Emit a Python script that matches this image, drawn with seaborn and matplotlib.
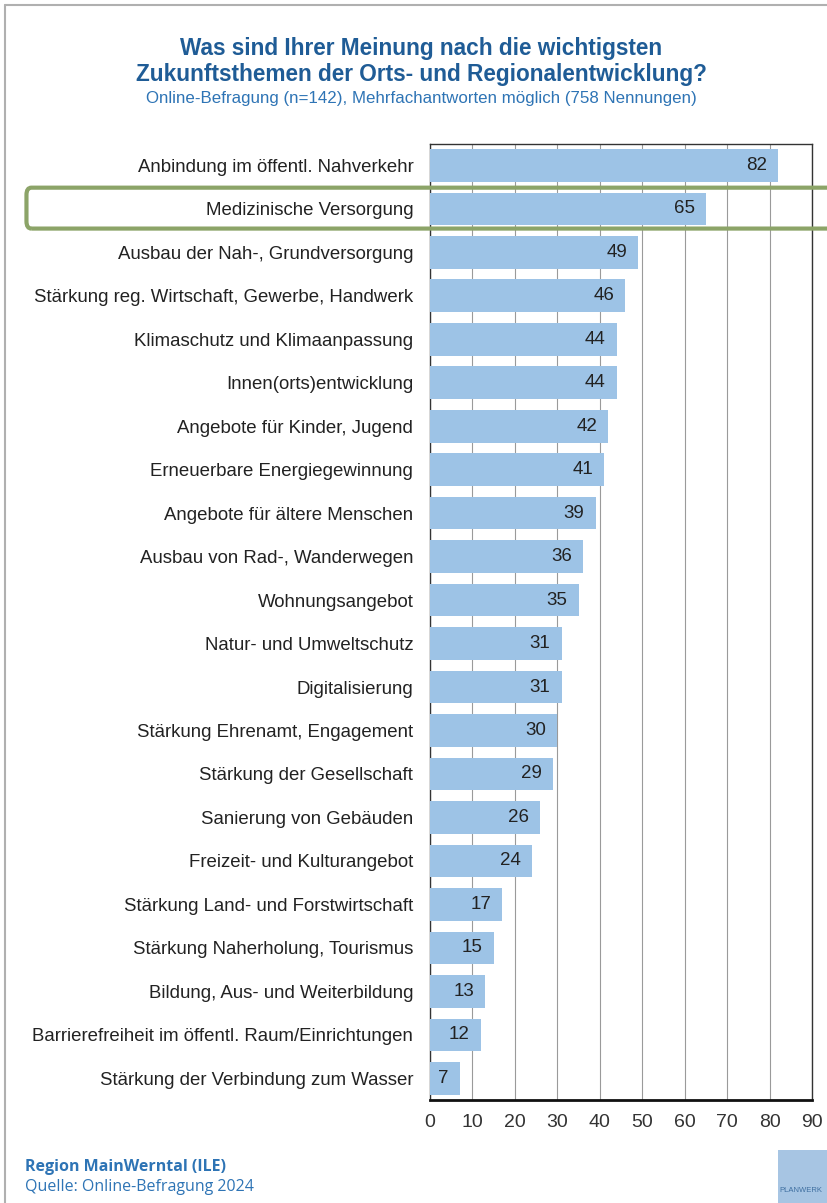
import matplotlib
matplotlib.use("Agg")
import matplotlib.pyplot as plt
import seaborn as sns
import pandas as pd
from matplotlib.patches import FancyBboxPatch, Rectangle
from matplotlib.lines import Line2D

# Chart data
themes = [
    "Anbindung im öffentl. Nahverkehr",
    "Medizinische Versorgung",
    "Ausbau der Nah-, Grundversorgung",
    "Stärkung reg. Wirtschaft, Gewerbe, Handwerk",
    "Klimaschutz und Klimaanpassung",
    "Innen(orts)entwicklung",
    "Angebote für Kinder, Jugend",
    "Erneuerbare Energiegewinnung",
    "Angebote für ältere Menschen",
    "Ausbau von Rad-, Wanderwegen",
    "Wohnungsangebot",
    "Natur- und Umweltschutz",
    "Digitalisierung",
    "Stärkung Ehrenamt, Engagement",
    "Stärkung der Gesellschaft",
    "Sanierung von Gebäuden",
    "Freizeit- und Kulturangebot",
    "Stärkung Land- und Forstwirtschaft",
    "Stärkung Naherholung, Tourismus",
    "Bildung, Aus- und Weiterbildung",
    "Barrierefreiheit im öffentl. Raum/Einrichtungen",
    "Stärkung der Verbindung zum Wasser",
]
mentions = [82, 65, 49, 46, 44, 44, 42, 41, 39, 36, 35, 31, 31, 30, 29, 26, 24, 17, 15, 13, 12, 7]
x_ticks = [0, 10, 20, 30, 40, 50, 60, 70, 80, 90]

df = pd.DataFrame({"Thema": themes, "Nennungen": mentions})

sns.set_style("white")
plt.rcParams['font.family'] = ['Liberation Sans', 'DejaVu Sans']

fig = plt.figure(figsize=(8.27, 12.03), dpi=100)
ax = fig.add_axes([0.52, 0.0856, 0.462, 0.795])

sns.barplot(data=df, x="Nennungen", y="Thema", orient="h", color="#9DC3E6",
            saturation=1, width=0.75, linewidth=0, ax=ax, zorder=3)

for i, v in enumerate(mentions):
    ax.annotate(str(v), xy=(v, i), xytext=(-8, 0), textcoords="offset points",
                ha="right", va="center", fontsize=13.5, color="#222222", zorder=4)

ax.set_xlim(0, 90)
ax.set_xticks(x_ticks)
ax.set_xticklabels([str(t) for t in x_ticks], fontsize=14, color="#333333")
ax.set_xlabel("")
ax.set_ylabel("")
ax.tick_params(axis="y", length=0, pad=12, labelsize=13.4, labelcolor="#222222")
ax.tick_params(axis="x", length=7, width=0.8, color="#888888", pad=3, direction="out")
ax.xaxis.grid(True, color="#9a9a9a", linewidth=0.8, zorder=0)
ax.set_axisbelow(True)
for side in ["left", "top", "right"]:
    ax.spines[side].set_color("#333333")
    ax.spines[side].set_linewidth(1.0)
ax.spines["bottom"].set_color("#111111")
ax.spines["bottom"].set_linewidth(2.0)

# Titles
fig.text(0.509, 0.960, "Was sind Ihrer Meinung nach die wichtigsten", ha="center", va="center",
         fontsize=16.3, fontweight="bold", color="#1F5C96")
fig.text(0.509, 0.938, "Zukunftsthemen der Orts- und Regionalentwicklung?", ha="center", va="center",
         fontsize=16.3, fontweight="bold", color="#1F5C96")
fig.text(0.509, 0.918, "Online-Befragung (n=142), Mehrfachantworten möglich (758 Nennungen)",
         ha="center", va="center", fontsize=12.2, color="#2E74B5")

# Footer
fig.text(0.030, 0.030, "Region MainWerntal (ILE)", ha="left", va="center", fontsize=11.5,
         fontweight="bold", color="#2E74B5", family=["Open Sans", "DejaVu Sans"])
fig.text(0.030, 0.013, "Quelle: Online-Befragung 2024", ha="left", va="center", fontsize=11.5,
         color="#2E74B5", family=["Open Sans", "DejaVu Sans"])

# Logo block
fig.patches.append(Rectangle((0.941, 0.0), 0.06, 0.044, transform=fig.transFigure,
                             facecolor="#A7C5E3", edgecolor="none"))
fig.text(0.943, 0.010, "PLANWERK", fontsize=5.5, color="#3F6FA0", ha="left", va="center")

# Outer frame
fig.lines.append(Line2D([0.006, 0.006], [0.0, 0.996], transform=fig.transFigure,
                        color="#b0b0b0", linewidth=1.5))
fig.lines.append(Line2D([0.006, 1.0], [0.996, 0.996], transform=fig.transFigure,
                        color="#b0b0b0", linewidth=1.5))

# Highlight box around second row
fig.patches.append(FancyBboxPatch((0.032, 0.810), 0.99, 0.034,
                                  boxstyle="round,pad=0,rounding_size=0.006",
                                  transform=fig.transFigure, facecolor="none",
                                  edgecolor="#8CA468", linewidth=3.0, zorder=10))

fig.savefig("out.png", dpi=100)
